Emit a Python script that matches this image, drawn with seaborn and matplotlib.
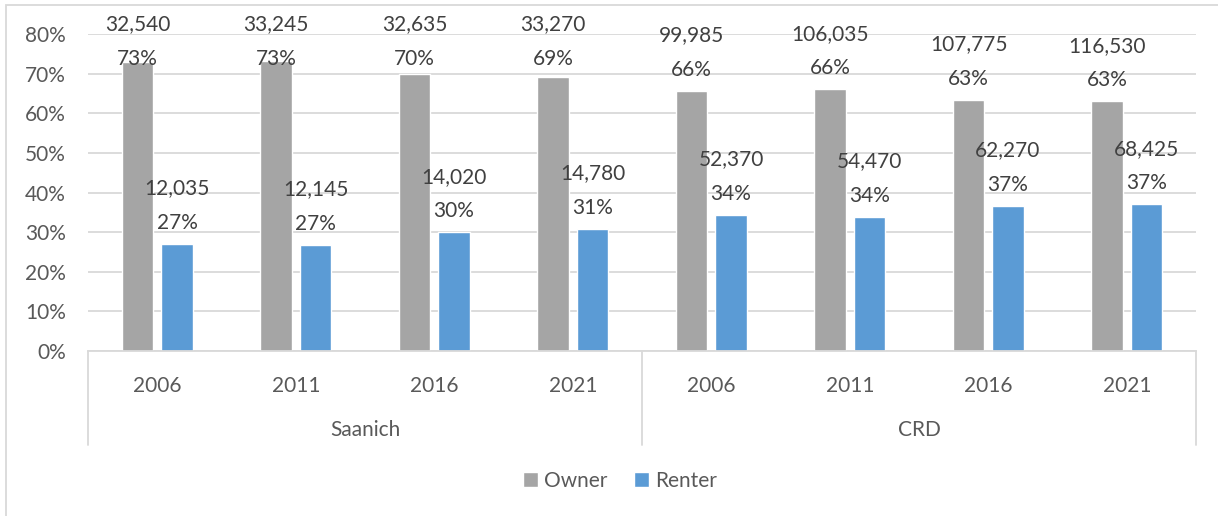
import matplotlib
matplotlib.use("Agg")
import matplotlib.pyplot as plt
import matplotlib.transforms as mtransforms
from matplotlib.patches import Rectangle
from matplotlib.ticker import PercentFormatter
import pandas as pd
import seaborn as sns

# values
regions = ["Saanich"] * 4 + ["CRD"] * 4
years = ["2006", "2011", "2016", "2021"] * 2
owner_share = [0.730, 0.732, 0.700, 0.692, 0.656, 0.661, 0.634, 0.630]
renter_share = [0.270, 0.268, 0.300, 0.308, 0.344, 0.339, 0.366, 0.370]
owner_count = [32540, 33245, 32635, 33270, 99985, 106035, 107775, 116530]
renter_count = [12035, 12145, 14020, 14780, 52370, 54470, 62270, 68425]

tenures = ["Owner", "Renter"]
colors = {"Owner": "#A5A5A5", "Renter": "#5B9BD5"}
slots = [f"{r} {y}" for r, y in zip(regions, years)]

df = pd.concat([
    pd.DataFrame({"slot": slots, "tenure": "Owner", "share": owner_share, "count": owner_count}),
    pd.DataFrame({"slot": slots, "tenure": "Renter", "share": renter_share, "count": renter_count}),
], ignore_index=True)

sns.set_theme(style="white")
plt.rcParams["font.family"] = ["Lato", "DejaVu Sans"]
fs = 15

fig = plt.figure(figsize=(12.18, 5.16), dpi=100)
ax = fig.add_axes([0.0723, 0.3198, 0.9097, 0.6142])

sns.barplot(data=df, x="slot", y="share", hue="tenure", order=slots, hue_order=tenures,
            palette=colors, width=0.57, gap=0.21, saturation=1, ax=ax)

ax.set_ylim(0, 0.8)
ax.set_xlim(-0.5, len(slots) - 0.5)
ax.set_yticks([i / 10 for i in range(9)])
ax.yaxis.set_major_formatter(PercentFormatter(1, decimals=0))
ax.grid(axis="y", color="#D9D9D9", lw=1.3)
ax.set_axisbelow(True)
for side in ["top", "right", "left"]:
    ax.spines[side].set_visible(False)
ax.spines["bottom"].set_color("#D9D9D9")
ax.spines["bottom"].set_linewidth(1.3)
ax.tick_params(axis="y", length=0, pad=16, labelsize=fs, labelcolor="#595959")
ax.tick_params(axis="x", length=0, pad=18, labelsize=fs, labelcolor="#595959")
ax.set_xticks(range(len(slots)))
ax.set_xticklabels(years)
ax.set_xlabel("")
ax.set_ylabel("")

# data labels: count and share, pushed down when they would leave the chart
clamp = 0.684
counts = {"Owner": owner_count, "Renter": renter_count}
for tenure, cont in zip(tenures, ax.containers):
    for bar, n in zip(cont, counts[tenure]):
        h = bar.get_height()
        ax.annotate(f"{n:,}\n{h * 100:.0f}%", xy=(bar.get_x() + bar.get_width() / 2, min(h, clamp)),
                    xytext=(0, 8), textcoords="offset points", ha="center", va="bottom",
                    multialignment="center", linespacing=1.9, fontsize=fs,
                    color="#404040", annotation_clip=False)

# region level of the category axis
trans = mtransforms.blended_transform_factory(ax.transData, ax.transAxes)
for x in [-0.5, 3.5, 7.5]:
    ax.plot([x, x], [0, -0.2965], transform=trans, color="#D9D9D9", lw=1.3, clip_on=False)
for name, mid in [("Saanich", 1.5), ("CRD", 5.5)]:
    ax.annotate(name, xy=(mid, 0), xycoords=trans, xytext=(0, -57), textcoords="offset points",
                ha="center", va="center", fontsize=fs, color="#595959")

ax.legend(loc="center", bbox_to_anchor=(0.509, 0.068), bbox_transform=fig.transFigure,
          ncol=2, frameon=False, fontsize=fs, handlelength=0.7, handleheight=0.7,
          handletextpad=0.3, columnspacing=1.3, labelcolor="#595959")

fig.patches.append(Rectangle((0.005, -0.02), 1.2, 1.0103, transform=fig.transFigure,
                             fill=False, edgecolor="#D9D9D9", lw=1.3))

fig.savefig("out.png", dpi=100)
